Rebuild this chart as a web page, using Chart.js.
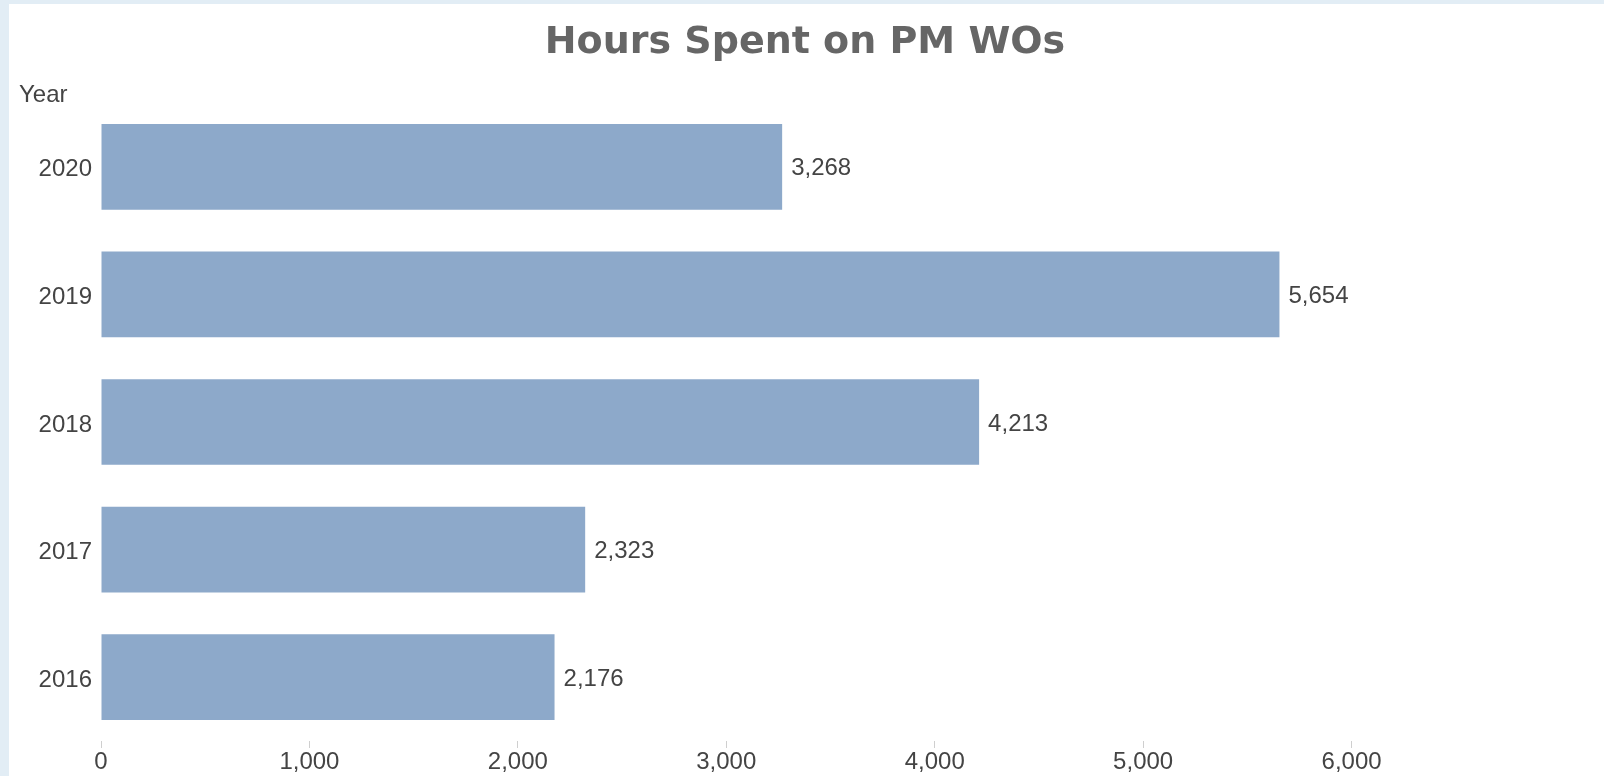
<!DOCTYPE html>
<html>
<head>
<meta charset="utf-8">
<script src="https://cdn.jsdelivr.net/npm/chart.js@4"></script>
<style>
  html, body { margin: 0; padding: 0; background: #e2edf5; }
  #wrap { position: absolute; left: 9px; top: 4px; width: 1595px; height: 772px; background: #ffffff; }
</style>
</head>
<body>
<div id="wrap"><canvas id="pmChart"></canvas></div>
<script>
// data
const years = ['2020', '2019', '2018', '2017', '2016'];
const hours = [3268, 5654, 4213, 2323, 2176];
const xTicksShown = [0, 1000, 2000, 3000, 4000, 5000, 6000];

const fmt = v => v.toLocaleString('en-US');

// title, "Year" label above the category axis, value labels at bar ends
const extras = {
    id: 'extras',
    afterDatasetsDraw(chart) {
        const ctx = chart.ctx;
        ctx.save();
        ctx.font = 'bold 38px "DejaVu Sans", Verdana, sans-serif';
        ctx.fillStyle = '#666';
        ctx.textAlign = 'center';
        ctx.textBaseline = 'alphabetic';
        ctx.fillText('Hours Spent on PM WOs', 796, 49);

        ctx.font = '24px "Liberation Sans", Arial, sans-serif';
        ctx.fillStyle = '#444';
        ctx.textBaseline = 'middle';
        ctx.textAlign = 'left';
        ctx.fillText('Year', 10, 91);
        const meta = chart.getDatasetMeta(0);
        meta.data.forEach((bar, i) => {
            ctx.fillText(fmt(hours[i]), bar.x + 9, bar.y + 2);
        });
        ctx.restore();
    }
};

document.addEventListener('DOMContentLoaded', function () {
    const ctx = document.getElementById('pmChart').getContext('2d');
    new Chart(ctx, {
        type: 'bar',
        data: {
            labels: years,
            datasets: [{
                label: 'Hours',
                data: hours,
                backgroundColor: '#8da9ca',
                borderWidth: 0,
                barPercentage: 0.672,
                categoryPercentage: 1
            }]
        },
        options: {
            indexAxis: 'y',
            responsive: true,
            maintainAspectRatio: false,
            animation: false,
            layout: { padding: { left: 0, right: 44, top: 99, bottom: 0 } },
            plugins: {
                legend: { display: false },
                tooltip: { enabled: false },
                title: { display: false }
            },
            scales: {
                x: {
                    min: 0,
                    max: 7000,
                    border: { display: false },
                    grid: {
                        drawOnChartArea: false,
                        drawTicks: true,
                        tickLength: 7,
                        tickColor: c => (xTicksShown.includes(c.tick && c.tick.value) ? '#cfcfcf' : 'rgba(0,0,0,0)')
                    },
                    ticks: {
                        stepSize: 1000,
                        padding: 2,
                        color: '#444',
                        font: { family: '"Liberation Sans", Arial, sans-serif', size: 24, lineHeight: 1 },
                        callback: v => (xTicksShown.includes(v) ? fmt(v) : '')
                    }
                },
                y: {
                    border: { display: false },
                    grid: { display: false },
                    afterFit: s => { s.width = 92; },
                    ticks: {
                        padding: 1,
                        labelOffset: 3,
                        color: '#444',
                        font: { family: '"Liberation Sans", Arial, sans-serif', size: 24, lineHeight: 1.2 }
                    }
                }
            }
        },
        plugins: [extras]
    });
});
</script>
</body>
</html>
